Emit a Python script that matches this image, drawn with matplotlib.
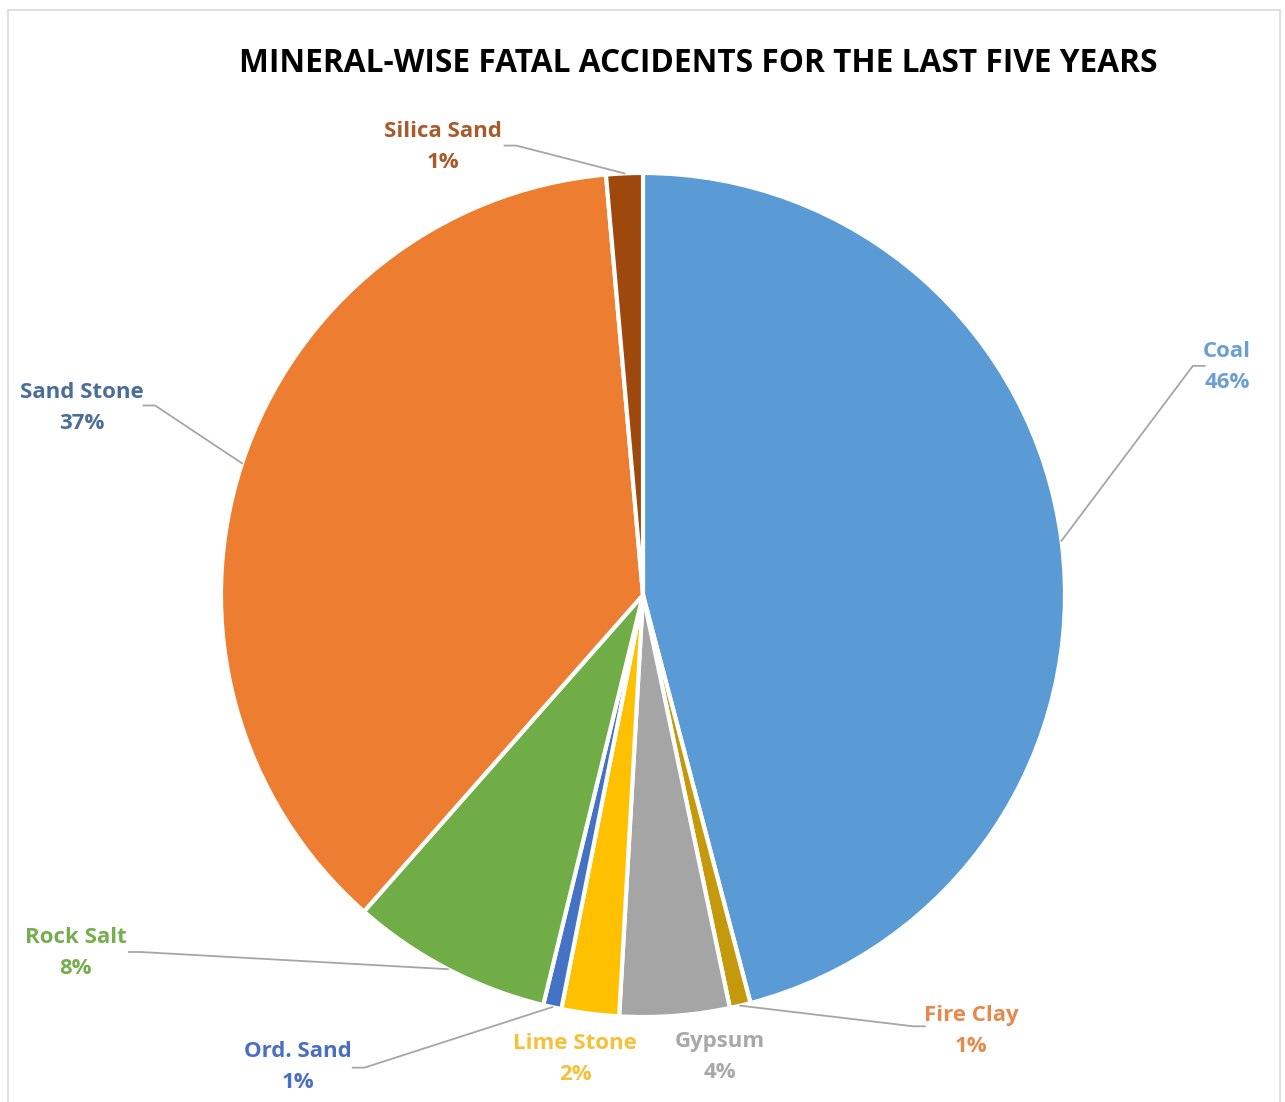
import numpy as np
import matplotlib.pyplot as plt
from matplotlib.patches import Rectangle

# values (share of fatal accidents, %)
minerals = ["Coal", "Fire Clay", "Gypsum", "Lime Stone", "Ord. Sand",
            "Rock Salt", "Sand Stone", "Silica Sand"]
shares = [45.9, 0.8, 4.2, 2.2, 0.7, 7.7, 37.1, 1.4]
slice_colors = ["#5B9BD5", "#C49A0C", "#A5A5A5", "#FFC000", "#4472C4",
                "#70AD47", "#ED7D31", "#9E480E"]
label_colors = ["#6A9FD2", "#E8884A", "#A8A8A8", "#F7C03A", "#4A6FC0",
                "#76AE4E", "#4A6E98", "#A85A2A"]

# label block centres and leader line ends (pie radius = 1)
label_pos = [(1.384, 0.540), (0.777, -1.033), (0.182, -1.095), (-0.161, -1.100),
             (-0.818, -1.118), (-1.344, -0.848), (-1.329, 0.443), (-0.474, 1.062)]
leader_end = [(1.303, 0.543), (0.640, -1.022), None, None,
              (-0.660, -1.120), (-1.190, -0.846), (-1.156, 0.449), (-0.300, 1.065)]

plt.rcParams["font.family"] = ["Open Sans", "DejaVu Sans"]

fig = plt.figure(figsize=(12.85, 11.02), dpi=100)
fig.patches.append(Rectangle((8 / 1285, -0.01), 1272 / 1285, (1102 - 10) / 1102 + 0.01,
                             transform=fig.transFigure, fill=False,
                             edgecolor="#D9D9D9", linewidth=1.2))

r_w = 422 / 1285
r_h = 422 / 1102
cx, cy = 643 / 1285, (1102 - 595) / 1102
ax = fig.add_axes([cx - r_w, cy - r_h, 2 * r_w, 2 * r_h])

wedges, _ = ax.pie(shares, colors=slice_colors, startangle=90, counterclock=False,
                   radius=1, wedgeprops=dict(edgecolor="white", linewidth=3))
ax.set_xlim(-1, 1)
ax.set_ylim(-1, 1)
ax.set_aspect("equal")
ax.axis("off")

total = sum(shares)
for w, name, val, col, pos, end in zip(wedges, minerals, shares, label_colors,
                                        label_pos, leader_end):
    pct = f"{round(val / total * 100):.0f}%"
    ax.text(pos[0], pos[1], f"{name}\n{pct}", ha="center", va="center",
            fontsize=16, fontweight="bold", color=col, linespacing=1.65,
            clip_on=False)
    if end is None:
        continue
    mid = np.deg2rad((w.theta1 + w.theta2) / 2)
    px, py = np.cos(mid), np.sin(mid)
    step = 0.028 if end[0] > px else -0.028
    ax.plot([px, end[0], end[0] + step], [py, end[1], end[1]],
            color="#A6A6A6", linewidth=1.3, clip_on=False)

fig.text(698 / 1285, 1 - 64 / 1102, "MINERAL-WISE FATAL ACCIDENTS FOR THE LAST FIVE YEARS",
         ha="center", va="center", fontsize=22.8, fontweight="bold", color="black")

fig.savefig("out.png", dpi=100, facecolor="white")
